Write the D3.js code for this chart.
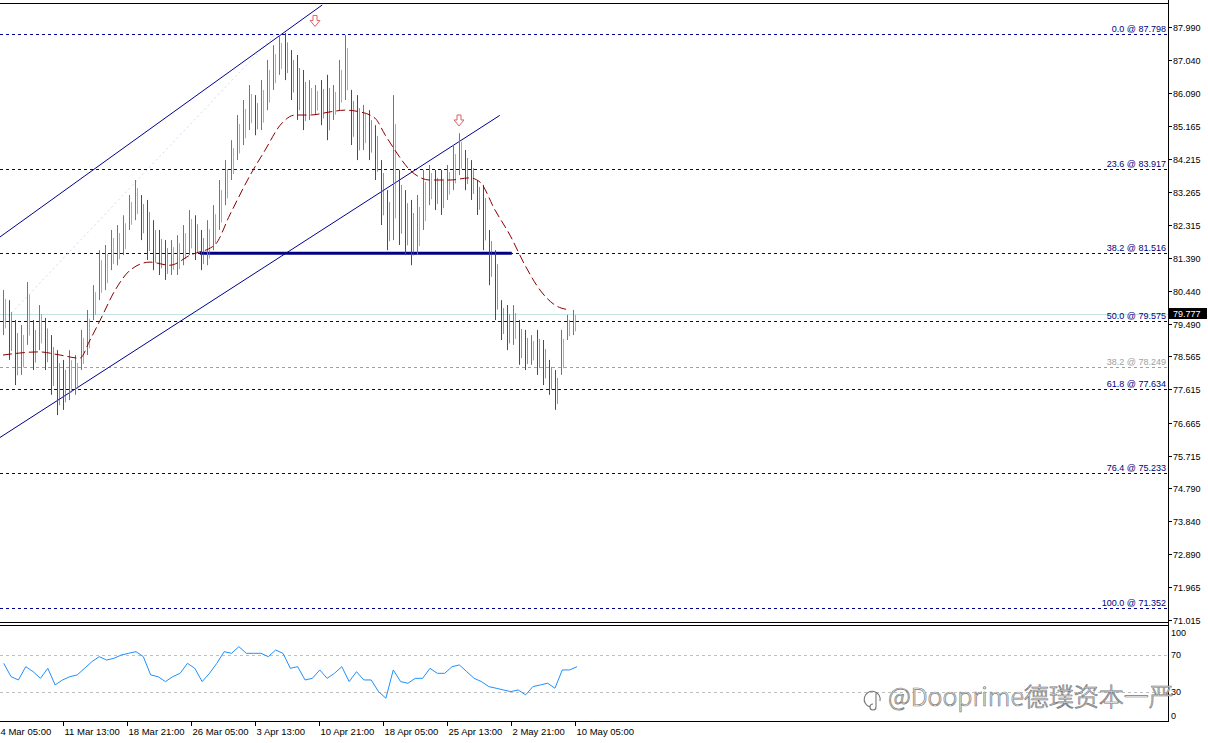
<!DOCTYPE html>
<html><head><meta charset="utf-8">
<script src="https://cdn.jsdelivr.net/npm/d3@7/dist/d3.min.js"></script>
<style>body{margin:0;background:#fff}svg{display:block}</style>
</head><body><svg id="c" width="1208" height="743"></svg>
<script>
const barHigh=[80.46,80.17,79.60,79.46,80.69,79.60,80.03,79.66,79.17,78.74,78.46,78.74,78.60,79.32,79.89,80.60,81.60,81.75,82.18,82.32,82.60,83.18,83.61,83.18,83.04,82.46,82.18,81.89,81.89,82.03,82.32,82.75,82.60,82.18,82.46,82.89,83.61,84.18,84.75,85.47,85.90,86.33,86.04,86.47,87.05,87.47,87.76,87.82,87.33,87.19,86.76,86.47,86.33,86.47,86.62,86.33,87.05,87.76,86.19,86.04,85.76,85.61,85.18,84.18,83.32,86.04,83.90,83.32,83.04,83.18,83.90,84.04,83.90,83.90,84.04,84.61,84.95,84.47,84.18,83.61,83.47,82.18,81.60,80.17,80.03,80.03,79.60,79.32,79.17,79.32,79.03,78.46,78.17,79.32,79.75,79.89];
const barLow=[79.17,78.46,77.74,78.03,78.89,78.17,78.74,78.17,77.46,76.88,77.03,77.31,77.46,78.17,78.60,79.60,80.17,80.46,81.03,81.17,81.46,82.18,82.46,81.89,81.32,81.03,80.89,80.75,80.89,80.89,81.17,81.46,81.32,81.03,81.17,81.60,82.18,82.89,83.61,84.18,84.61,85.04,84.89,85.04,85.61,86.19,86.62,86.47,85.90,85.33,85.04,85.33,85.47,85.18,84.75,85.33,85.61,85.90,84.61,84.18,84.47,84.18,83.61,82.32,81.60,81.89,81.75,81.46,81.17,81.46,82.18,82.89,82.75,82.61,83.04,83.32,83.75,83.32,83.04,82.61,81.60,80.60,79.60,79.03,78.74,78.89,78.32,78.17,78.32,78.03,77.74,77.46,77.03,78.03,79.03,79.17];
const maBar=[0,6,9.5,12.8,14.5,16.2,18.7,21.2,24.5,27.8,31.2,35.3,37.8,41.2,43.7,46.2,48.7,51.2,54.5,57,59.5,62,63.7,65.3,67.8,71.2,74.5,77.8,79.5,82,84.5,87,89.5,92,94.5];
const maVal=[78.60,78.69,78.60,78.51,79.03,79.60,80.46,81.03,81.26,81.17,81.46,81.75,82.61,83.75,84.47,85.18,85.47,85.47,85.56,85.61,85.56,85.38,84.90,84.47,83.90,83.61,83.61,83.67,83.55,82.75,82.03,81.17,80.46,80.03,79.89];
const rsiVal=[61.2,46.5,42.9,57.5,52.0,44.7,55.7,37.4,42.9,46.5,48.4,55.7,63.0,68.5,64.8,66.7,70.3,72.2,74.0,68.5,48.4,46.5,41.1,46.5,50.2,61.2,55.7,41.1,50.2,61.2,74.0,72.2,79.5,72.2,72.2,72.2,68.5,75.8,72.2,55.7,57.5,42.9,44.7,53.9,44.7,50.2,57.5,41.1,52.0,42.9,42.9,30.1,22.8,53.9,41.1,39.3,44.7,44.7,55.7,50.2,50.2,57.5,59.4,52.0,44.7,41.1,35.6,33.8,31.9,30.1,31.9,26.5,35.6,37.4,39.3,33.8,53.9,53.9,57.5];
const priceTicks=[87.990,87.040,86.090,85.165,84.215,83.265,82.315,81.390,80.440,79.490,78.565,77.615,76.665,75.715,74.790,73.840,72.890,71.965,71.015];
const fibLevels=[0.0,23.6,38.2,50.0,61.8,76.4,100.0];
const fibPrices=[87.798,83.917,81.516,79.575,77.634,75.233,71.352];
const fib2Level=38.2, fib2Price=78.249;
const lastPrice=79.777;
const timeLabels=["4 Mar 05:00","11 Mar 13:00","18 Mar 21:00","26 Mar 05:00","3 Apr 13:00","10 Apr 21:00","18 Apr 05:00","25 Apr 13:00","2 May 21:00","10 May 05:00"];
const timeBars=[-0.67,10,20.67,31.33,42,52.67,63.33,74,84.67,95.33];
const channelUpper=[[-0.5,81.98],[53.2,88.62]];
const channelLower=[[-0.5,76.24],[82.8,85.46]];
const guideLine=[[0.3,79.60],[45.3,87.76]];
const neckline=[[32.8,81.516],[84.8,81.516]];
const arrowsAt=[[52,88.15],[76,85.30]];
const rsiTicks=[100,70,30,0];

const svg=d3.select("#c");
const axX=1168, topY=3, mainBot=622;
const x=d3.scaleLinear().domain([0,95]).range([3,573]);
const y=d3.scaleLinear().domain([71.015,87.990]).range([620,27]);
const xr=d3.scaleLinear().domain([0,rsiVal.length-1]).range([3.7,577]);
const yr=d3.scaleLinear().domain([0,100]).range([719,628]);
const font="Liberation Sans, Arial, sans-serif";

svg.append("clipPath").attr("id","mc").append("rect").attr("x",0).attr("y",topY+1).attr("width",axX).attr("height",mainBot-topY-1);
const g=svg.append("g").attr("clip-path","url(#mc)");

fibPrices.forEach((p,i)=>{
  g.append("line").attr("x1",0).attr("x2",axX).attr("y1",Math.round(y(p))+.5).attr("y2",Math.round(y(p))+.5)
   .attr("stroke","#000090").attr("stroke-dasharray","3,3");
  svg.append("text").attr("x",axX-2).attr("y",Math.round(y(p))-2).attr("text-anchor","end")
   .attr("font-family",font).attr("font-size",9).attr("fill","#000080").text(fibLevels[i].toFixed(1)+" @ "+p.toFixed(3));
});
g.append("line").attr("x1",0).attr("x2",axX).attr("y1",Math.round(y(fib2Price))+.5).attr("y2",Math.round(y(fib2Price))+.5)
 .attr("stroke","#a0a0a0").attr("stroke-dasharray","3,3");
svg.append("text").attr("x",axX-2).attr("y",Math.round(y(fib2Price))-2).attr("text-anchor","end")
 .attr("font-family",font).attr("font-size",9).attr("fill","#a0a0a0").text(fib2Level.toFixed(1)+" @ "+fib2Price.toFixed(3));
g.append("line").attr("x1",0).attr("x2",axX).attr("y1",Math.round(y(lastPrice))+.5).attr("y2",Math.round(y(lastPrice))+.5).attr("stroke","#c4e4e4");

const ln=d3.line().x(d=>x(d[0])).y(d=>y(d[1]));
g.append("path").attr("d",ln(guideLine)).attr("stroke","#d8d8f0").attr("stroke-dasharray","2,3").attr("fill","none");
[channelUpper,channelLower].forEach(c=>g.append("path").attr("d",ln(c)).attr("stroke","#000090").attr("fill","none").attr("stroke-width",1));
g.append("path").attr("d",ln(neckline)).attr("stroke","#000080").attr("stroke-width",3).attr("fill","none");

barHigh.forEach((h,i)=>{
  const mid=(h+barLow[i])/2, prev=i?(barHigh[i-1]+barLow[i-1])/2:mid;
  const col=mid>=prev?"#4682b4":"#ff0000";
  const xx=Math.round(x(i))+.5;
  g.append("line").attr("x1",xx).attr("x2",xx).attr("y1",y(h)).attr("y2",y(barLow[i])).attr("stroke",col);
  g.append("line").attr("x1",xx+2).attr("x2",xx+2).attr("y1",y(h)+(y(barLow[i])-y(h))*0.2).attr("y2",y(barLow[i])-(y(barLow[i])-y(h))*0.15).attr("stroke",col).attr("opacity",0.6);
});
g.append("path").attr("d",d3.line().curve(d3.curveMonotoneX).x(d=>x(d)).y((d,i)=>y(maVal[i]))(maBar))
 .attr("stroke","#8b0000").attr("fill","none").attr("stroke-dasharray","9,4").attr("stroke-width",1);

arrowsAt.forEach(a=>{
  const cx=x(a[0]), cy=y(a[1]);
  svg.append("path").attr("d",`M${cx-2},${cy-6}h4v5h3l-5,6l-5,-6h3z`).attr("fill","#fff").attr("stroke","#e06060").attr("stroke-width",1);
});

svg.append("line").attr("x1",0).attr("x2",axX).attr("y1",topY+.5).attr("y2",topY+.5).attr("stroke","#000");
svg.append("line").attr("x1",0).attr("x2",axX+1).attr("y1",mainBot+.5).attr("y2",mainBot+.5).attr("stroke","#000");
svg.append("line").attr("x1",0).attr("x2",axX+1).attr("y1",mainBot+3.5).attr("y2",mainBot+3.5).attr("stroke","#000");
svg.append("line").attr("x1",0).attr("x2",axX+1).attr("y1",721.5).attr("y2",721.5).attr("stroke","#000");
svg.append("line").attr("x1",axX+.5).attr("x2",axX+.5).attr("y1",0).attr("y2",722).attr("stroke","#000");

priceTicks.forEach(p=>{
  const yy=Math.round(y(p))+.5;
  svg.append("line").attr("x1",axX).attr("x2",axX+4).attr("y1",yy).attr("y2",yy).attr("stroke","#000");
  svg.append("text").attr("x",axX+5).attr("y",yy+3).attr("font-family",font).attr("font-size",9).text(p.toFixed(3));
});
const ly=Math.round(y(lastPrice));
svg.append("rect").attr("x",axX+1).attr("y",ly-6).attr("width",38).attr("height",11).attr("fill","#000");
svg.append("text").attr("x",axX+5).attr("y",ly+3).attr("font-family",font).attr("font-size",9).attr("fill","#fff").text(lastPrice.toFixed(3));

[70,30].forEach(v=>svg.append("line").attr("x1",0).attr("x2",axX).attr("y1",Math.round(yr(v))+.5).attr("y2",Math.round(yr(v))+.5).attr("stroke","#c0c0c0").attr("stroke-dasharray","3,3"));
svg.append("path").attr("d",d3.line().x((d,i)=>xr(i)).y(d=>yr(d))(rsiVal)).attr("stroke","#1e90ff").attr("fill","none");
rsiTicks.forEach(v=>{
  const yy=Math.max(633,Math.min(716,yr(v)));
  svg.append("text").attr("x",axX+3).attr("y",yy+3).attr("font-family",font).attr("font-size",9).text(v);
});

timeLabels.forEach((t,i)=>{
  const xx=Math.round(x(timeBars[i]))+.5;
  svg.append("line").attr("x1",xx).attr("x2",xx).attr("y1",722).attr("y2",726).attr("stroke","#000");
  svg.append("text").attr("x",xx+1).attr("y",735).attr("font-family",font).attr("font-size",9.5).text(t);
});

svg.append("text").attr("x",888).attr("y",706).attr("font-family","Noto Sans CJK SC, sans-serif").attr("font-weight",300).attr("font-size",25)
 .attr("fill","#fff").attr("stroke","#777").attr("stroke-width",0.7).text("@Dooprime德璞资本一严");
svg.append("path").attr("d","M870,707 a8,8 0 1,1 10,-6 m-4,-8 v14 a3,3 0 1,1 -3,-3").attr("fill","none").attr("stroke","#777").attr("stroke-width",1.1);
</script></body></html>
